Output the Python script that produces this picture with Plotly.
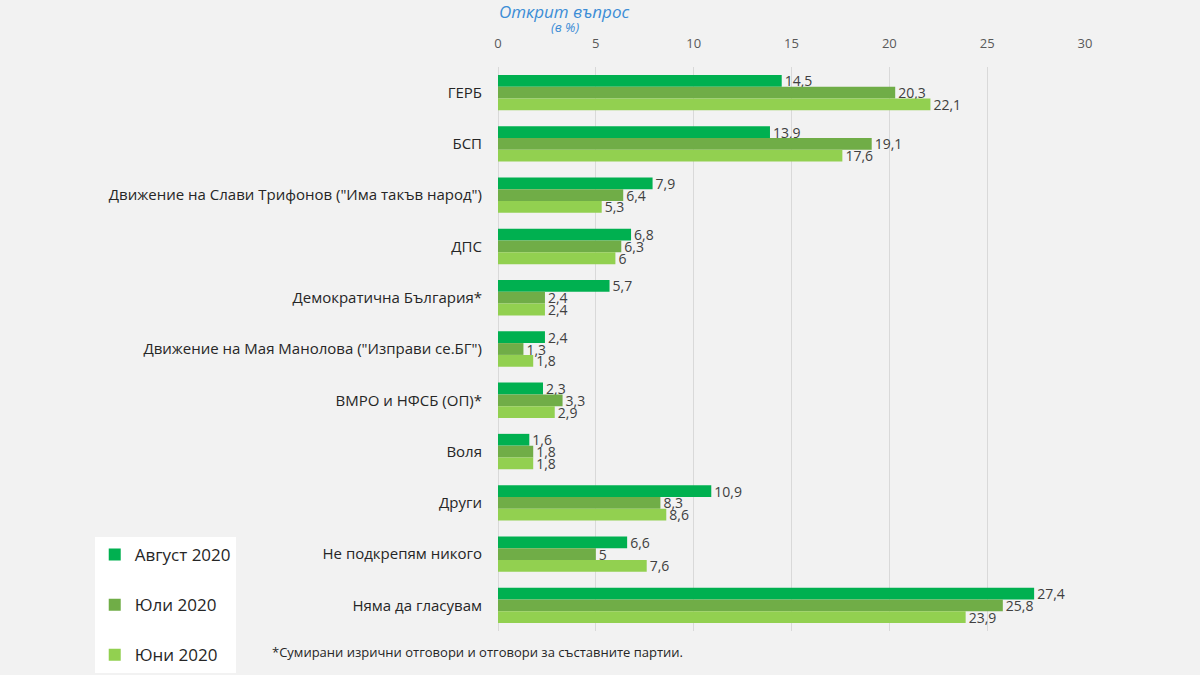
import plotly.graph_objects as go

categories = [
    "ГЕРБ",
    "БСП",
    "Движение на Слави Трифонов (\"Има такъв народ\")",
    "ДПС",
    "Демократична България*",
    "Движение на Мая Манолова (\"Изправи се.БГ\")",
    "ВМРО и НФСБ (ОП)*",
    "Воля",
    "Други",
    "Не подкрепям никого",
    "Няма да гласувам",
]
august_2020 = [14.5, 13.9, 7.9, 6.8, 5.7, 2.4, 2.3, 1.6, 10.9, 6.6, 27.4]
july_2020 = [20.3, 19.1, 6.4, 6.3, 2.4, 1.3, 3.3, 1.8, 8.3, 5.0, 25.8]
june_2020 = [22.1, 17.6, 5.3, 6.0, 2.4, 1.8, 2.9, 1.8, 8.6, 7.6, 23.9]
series_names = ["Август 2020", "Юли 2020", "Юни 2020"]
series_colors = ["#00b050", "#70ad47", "#92d050"]
x_ticks = [0, 5, 10, 15, 20, 25, 30]


def fmt(v):
    return ("%g" % v).replace(".", ",")


fig = go.Figure()
for name, vals, col in zip(series_names, [august_2020, july_2020, june_2020], series_colors):
    fig.add_trace(go.Bar(
        y=categories, x=vals, name=name, orientation="h",
        marker=dict(color=col, line=dict(width=0)),
        text=[fmt(v) for v in vals], textposition="outside",
        constraintext="none",
        textfont=dict(family="Open Sans", size=14, color="#404040"),
        cliponaxis=False, legendgroup=name,
    ))

fig.update_layout(
    width=1200, height=675,
    margin=dict(l=498, r=115, t=67, b=44, autoexpand=False),
    paper_bgcolor="#f2f2f2", plot_bgcolor="#f2f2f2",
    barmode="group", bargap=0.31, bargroupgap=0,
    font=dict(family="Open Sans", color="#404040"),
    xaxis=dict(
        side="top", range=[0, 30], tickvals=x_ticks,
        showgrid=True, gridcolor="#d9d9d9", gridwidth=1,
        zeroline=True, zerolinecolor="#d9d9d9", zerolinewidth=1,
        showline=False, ticks="", ticklabelstandoff=15,
        tickfont=dict(family="Open Sans", size=13, color="#595959"),
    ),
    yaxis=dict(
        autorange="reversed", showgrid=False, zeroline=False, showline=False,
        ticks="", ticklabelstandoff=15,
        tickfont=dict(family="Open Sans", size=15, color="#262626"),
    ),
    legend=dict(
        x=-0.687, xanchor="left", y=0.1667, yanchor="top",
        bgcolor="#ffffff", borderwidth=0,
        font=dict(family="Open Sans", size=17, color="#262626"),
        tracegroupgap=25, itemwidth=30,
    ),
    annotations=[
        dict(text="<i>Открит въпрос</i>", xref="paper", yref="paper",
             x=0.114, y=1.098, xanchor="center", yanchor="middle", showarrow=False,
             font=dict(family="Open Sans", size=17, color="#3c8dd6")),
        dict(text="<i>(в %)</i>", xref="paper", yref="paper",
             x=0.114, y=1.071, xanchor="center", yanchor="middle", showarrow=False,
             font=dict(family="Open Sans", size=13, color="#3c8dd6")),
        dict(text="*Сумирани изрични отговори и отговори за съставните партии.",
             xref="paper", yref="paper", x=-0.388, y=-0.038, xanchor="left",
             yanchor="middle", showarrow=False,
             font=dict(family="Open Sans", size=13, color="#262626")),
    ],
)

fig.write_html("out.html")
